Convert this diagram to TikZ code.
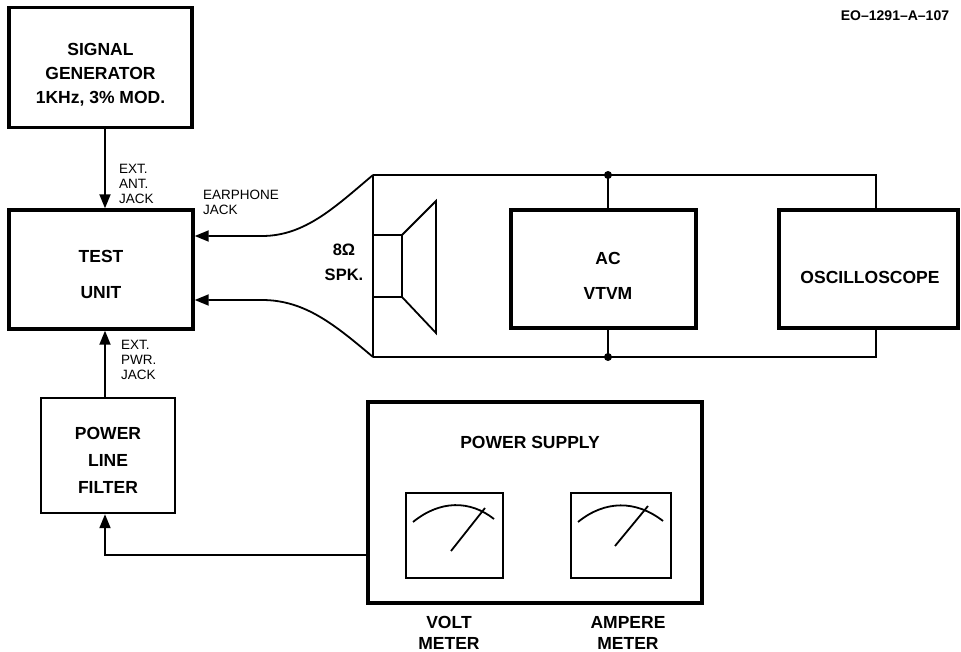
\documentclass[tikz,border=0pt]{standalone}
\usepackage{fontspec}
\setmainfont{Liberation Sans}
\usetikzlibrary{arrows.meta}
\begin{document}
\begin{tikzpicture}[x=1pt,y=-1pt,
  heavy/.style={draw, line width=3.4pt, inner sep=0pt},
  light/.style={draw, line width=2.4pt, inner sep=0pt},
  wire/.style={line width=1.8pt},
  arr/.style={wire, -{Triangle[length=14pt,width=11pt]}},
  big/.style={font=\fontsize{17.5}{24}\selectfont\bfseries, align=center, inner sep=0pt},
  small/.style={font=\fontsize{13.5}{15}\selectfont, align=left, inner sep=0pt},
  dot/.style={circle, fill, inner sep=0pt, minimum size=8pt}]
\useasboundingbox (0,0) rectangle (961,652);

% boxes
\node[heavy, minimum width=183pt, minimum height=120pt] (sg) at (100.5,67.5) {};
\node[heavy, minimum width=184pt, minimum height=119pt] (tu) at (101,269.5) {};
\node[heavy, minimum width=185pt, minimum height=118pt] (vtvm) at (603.5,269) {};
\node[heavy, minimum width=179pt, minimum height=118pt] (osc) at (868.5,269) {};
\node[light, minimum width=134pt, minimum height=115pt] (plf) at (108,455.5) {};
\node[heavy, minimum width=334pt, minimum height=201pt] (ps) at (535,502.5) {};
\node[light, minimum width=97pt, minimum height=85pt] (vm) at (454.5,535.5) {};
\node[light, minimum width=100pt, minimum height=85pt] (am) at (621,535.5) {};

% box texts
\node[big] (sgt) at (100.5,75) {SIGNAL\\GENERATOR\\1KHz, 3\% MOD.};
\node[big, font=\fontsize{17.5}{36}\selectfont\bfseries] (tut) at (101,274) {TEST\\UNIT};
\node[big, font=\fontsize{17.5}{35}\selectfont\bfseries] (vtvmt) at (608,276) {AC\\VTVM};
\node[big] (osct) at (870,277) {OSCILLOSCOPE};
\node[big, font=\fontsize{17.5}{27}\selectfont\bfseries] (plft) at (108,460) {POWER\\LINE\\FILTER};
\node[big] (pst) at (530,442) {POWER SUPPLY};
\node[big, font=\fontsize{17.5}{21}\selectfont\bfseries] (vml) at (449,633) {VOLT\\METER};
\node[big, font=\fontsize{17.5}{21}\selectfont\bfseries] (aml) at (628,633) {AMPERE\\METER};
\node[big, font=\fontsize{16.5}{25}\selectfont\bfseries] (spkl) at (344,262) {8Ω\\SPK.};

% small labels
\node[small, anchor=north west] (antl) at (119,164) {EXT.\\ANT.\\JACK};
\node[small, anchor=north west] (earl) at (203,190) {EARPHONE\\JACK};
\node[small, anchor=north west] (pwrl) at (121,340) {EXT.\\PWR.\\JACK};
\node[font=\fontsize{14}{16}\selectfont\bfseries, inner sep=0pt] (eo) at (895,16) {EO–1291–A–107};

% helper coordinates
\coordinate (ax) at (105,0);
\coordinate (vx) at (608,0);
\coordinate (ox) at (876,0);
\coordinate (etop) at (373,175);
\coordinate (ebot) at (373,357);
\coordinate (e1) at (262,236);
\coordinate (e2) at (262,300);
\coordinate (pj) at (0,555);

% signal generator -> test unit, filter -> test unit
\draw[arr] (sg.south -| ax) -- (tu.north -| ax);
\draw[arr] (plf.north -| ax) -- (tu.south -| ax);
% power supply -> filter
\draw[arr] (ps.west |- pj) -- (ax |- pj) -- (plf.south -| ax);

% earphone leads
\draw[arr] (etop) .. controls (335,207) and (305,236) .. (e1) -- (e1 -| tu.east);
\draw[arr] (ebot) .. controls (335,325) and (305,300) .. (e2) -- (e2 -| tu.east);

% enclosure and wiring
\draw[wire] (etop) -- (ebot);
\draw[wire] (etop) -- (ox |- etop) -- (ox |- osc.north);
\draw[wire] (ebot) -- (ox |- ebot) -- (ox |- osc.south);
\draw[wire] (vx |- etop) -- (vx |- vtvm.north);
\draw[wire] (vx |- ebot) -- (vx |- vtvm.south);
\node[dot] (d1) at (vx |- etop) {};
\node[dot] (d2) at (vx |- ebot) {};

% speaker
\draw[wire] (373,235) rectangle (402,297);
\draw[wire] (402,235) -- (436,201) -- (436,333) -- (402,297);

% meter faces
\draw[wire] (413,522) .. controls (440,500) and (470,500) .. (494,519);
\draw[wire] (451,551) -- (485,508);
\draw[wire] (578,522) .. controls (605,500) and (636,500) .. (663,521);
\draw[wire] (615,546) -- (648,506);
\end{tikzpicture}
\end{document}
